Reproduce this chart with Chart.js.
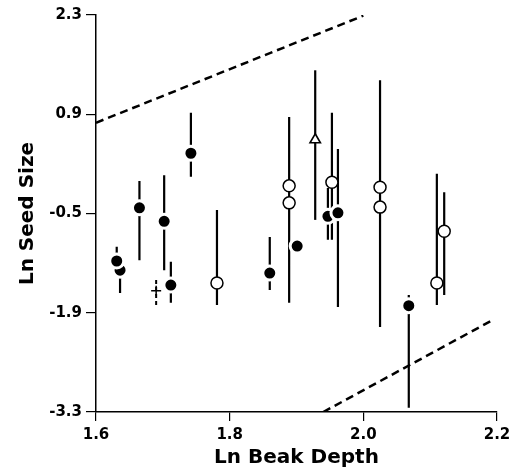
<!DOCTYPE html>
<html>
<head>
<meta charset="utf-8">
<script src="https://cdn.jsdelivr.net/npm/chart.js@4.4.1/dist/chart.umd.min.js"></script>
<style>
  html, body { margin: 0; padding: 0; background: #fff; }
  #wrap { width: 511px; height: 472px; }
</style>
</head>
<body>
<div id="wrap"><canvas id="myChart" width="511" height="472"></canvas></div>
<script>
// tick labels
const xTicks = [1.6, 1.8, 2.0, 2.2];
const yTicks = [-3.3, -1.9, -0.5, 0.9, 2.3];

// filled circles (order matters: later ones are drawn on top)
const filledX  = [1.636, 1.631, 1.665, 1.702, 1.742, 1.712, 1.860, 1.901, 1.947, 1.962, 2.068];
const filledY  = [-1.30, -1.17, -0.42, -0.61, 0.35, -1.51, -1.34, -0.96, -0.54, -0.49, -1.80];
const filledLo = [-1.62, -1.17, -1.16, -1.30, 0.02, -1.76, -1.58, null, -0.87, -1.82, -3.24];
const filledHi = [-1.30, -0.97, -0.04, 0.04, 0.92, -1.18, -0.83, null, -0.14, 0.41, -1.65];

// open circles
const openX  = [1.781, 1.889, 1.889, 1.953, 2.025, 2.025, 2.121, 2.110];
const openY  = [-1.48, -0.11, -0.35, -0.06, -0.13, -0.41, -0.75, -1.48];
const openLo = [-1.79, -1.23, -1.76, -0.87, -2.10, -1.08, -1.65, -1.79];
const openHi = [-0.45, 0.86, 0.25, 0.92, 1.38, 0.40, -0.20, 0.06];

// open triangle
const triX = [1.928];
const triY = [0.54];
const triLo = [-0.59];
const triHi = [1.52];

// cross
const plusX = [1.690];
const plusY = [-1.59];
const plusLo = [-1.79];
const plusHi = [-1.40];

// dashed boundary lines
const upperLineX = [1.6, 2.0];
const upperLineY = [0.78, 2.29];
const lowerLineX = [1.94, 2.194];
const lowerLineY = [-3.3, -2.00];

// build point lists for the library
function pts(xs, ys) {
  return xs.map((x, i) => ({x: x, y: ys[i]}));
}
// vertical segments separated by gaps
function bars(xs, lo, hi) {
  const out = [];
  xs.forEach((x, i) => {
    if (lo[i] == null || hi[i] == null) return;
    out.push({x: x, y: lo[i]}, {x: x, y: hi[i]}, {x: x, y: null});
  });
  return out;
}

const barStyle = {
  type: 'line',
  borderColor: '#000',
  borderWidth: 2.2,
  pointRadius: 0,
  spanGaps: false,
  fill: false,
  order: 3
};

const data = {
  datasets: [
    Object.assign({data: bars(filledX, filledLo, filledHi)}, barStyle),
    Object.assign({data: bars(openX, openLo, openHi)}, barStyle),
    Object.assign({data: bars(triX, triLo, triHi)}, barStyle),
    Object.assign({data: bars(plusX, plusLo, plusHi), borderDash: [4, 3]}, barStyle, {borderWidth: 2}),
    {
      type: 'line',
      data: pts(upperLineX, upperLineY),
      borderColor: '#000',
      borderWidth: 2.5,
      borderDash: [8, 5],
      pointRadius: 0,
      order: 3
    },
    {
      type: 'line',
      data: pts(lowerLineX, lowerLineY),
      borderColor: '#000',
      borderWidth: 2.5,
      borderDash: [8, 5],
      pointRadius: 0,
      order: 3
    },
    {
      type: 'scatter',
      data: pts(filledX, filledY),
      pointStyle: 'circle',
      pointRadius: 7,
      backgroundColor: '#000',
      borderColor: '#fff',
      borderWidth: 3,
      order: 1
    },
    {
      type: 'scatter',
      data: pts(openX, openY),
      pointStyle: 'circle',
      pointRadius: 6,
      backgroundColor: '#fff',
      borderColor: '#000',
      borderWidth: 1.5,
      order: 1
    },
    {
      type: 'scatter',
      data: pts(triX, triY),
      pointStyle: 'triangle',
      pointRadius: 6,
      backgroundColor: '#fff',
      borderColor: '#000',
      borderWidth: 1.6,
      order: 1
    },
    {
      type: 'scatter',
      data: pts(plusX, plusY),
      pointStyle: 'cross',
      pointRadius: 5,
      backgroundColor: '#000',
      borderColor: '#000',
      borderWidth: 1.5,
      order: 1
    }
  ]
};

const tickFont = {family: 'DejaVu Sans', weight: 'bold', size: 15};
const titleFont = {family: 'DejaVu Sans', weight: 'bold', size: 20};

const config = {
  type: 'scatter',
  data,
  options: {
    responsive: false,
    animation: false,
    layout: {padding: {top: 15, right: 14, left: 0, bottom: 0}},
    plugins: {
      legend: {display: false},
      tooltip: {enabled: false}
    },
    scales: {
      x: {
        type: 'linear',
        min: 1.6,
        max: 2.2,
        afterBuildTicks: (scale) => { scale.ticks = xTicks.map(v => ({value: v})); },
        afterFit: (scale) => {
          scale.height = 60;
          scale.paddingLeft = 0;
          scale.paddingRight = 0;
        },
        ticks: {
          color: '#000',
          font: tickFont,
          padding: 5,
          maxRotation: 0,
          callback: (v) => v.toFixed(1)
        },
        grid: {drawOnChartArea: false, drawTicks: true, tickLength: 9, color: '#000', lineWidth: 1.2},
        border: {display: true, color: '#000', width: 1.5},
        title: {display: true, text: 'Ln Beak Depth', color: '#000', font: titleFont, padding: {top: 0, bottom: 2}}
      },
      y: {
        type: 'linear',
        min: -3.3,
        max: 2.3,
        afterBuildTicks: (scale) => { scale.ticks = yTicks.map(v => ({value: v})); },
        afterFit: (scale) => {
          scale.width = 96;
          scale.paddingTop = 0;
          scale.paddingBottom = 0;
        },
        ticks: {
          color: '#000',
          font: tickFont,
          padding: 4,
          callback: (v) => v.toFixed(1)
        },
        grid: {drawOnChartArea: false, drawTicks: true, tickLength: 10, color: '#000', lineWidth: 1.2},
        border: {display: true, color: '#000', width: 1.5},
        title: {display: true, text: 'Ln Seed Size', color: '#000', font: titleFont, padding: {top: 16, bottom: 0}}
      }
    }
  }
};

const ctx = document.getElementById('myChart').getContext('2d');
new Chart(ctx, config);
</script>
</body>
</html>
